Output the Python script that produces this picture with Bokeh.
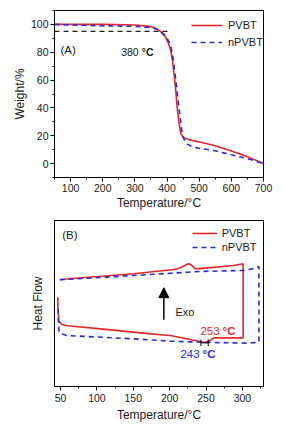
from bokeh.plotting import figure
from bokeh.layouts import column
from bokeh.models import (Range1d, SingleIntervalTicker, FixedTicker, Label, Arrow,
                          NormalHead, Segment, ColumnDataSource)
from bokeh.embed import file_html
from bokeh.resources import INLINE

# ---------------- data: (A) TGA ----------------
tga_pvbt_t = [50, 100, 200, 300, 340, 360, 380, 395, 405, 412, 418, 424, 428, 432, 437, 442,
              448, 458, 480, 505, 550, 600, 650, 700]
tga_pvbt_w = [100, 100, 100, 99.6, 98.8, 97.6, 95.0, 91, 86, 81, 72, 60, 50, 39, 30, 22,
              19.5, 18, 16.5, 15.3, 12.8, 9.0, 5.0, 0]
tga_npvbt_t = [50, 100, 200, 300, 350, 370, 380, 395, 405, 412, 418, 424, 430, 435, 440, 445,
               450, 456, 463, 480, 505, 550, 600, 650, 700]
tga_npvbt_w = [100, 99.6, 99, 98.6, 97.7, 96.5, 95, 92, 88, 84, 77, 66, 55, 44, 35, 25,
               19, 16, 14, 12, 10.8, 9.2, 6.3, 3.6, 0]
t5_line_t = [50, 413]
t5_line_w = [95, 95]

# ---------------- data: (B) DSC ----------------
dsc_pvbt_t = [49, 150.8, 205.8, 215, 222, 226, 230, 235, 240, 288, 301,
              301, 261, 256, 250, 245, 201, 174, 105, 60, 52, 47.6, 46.5, 46.2]
dsc_pvbt_h = [64.5, 67.9, 70.5, 71.5, 73.2, 74.0, 73.2, 71.0, 71.0, 72.9, 73.9,
              29.3, 29.3, 27.8, 26.6, 26.8, 30.7, 31.7, 34.7, 36.6, 37.3, 39.4, 47, 53.8]
dsc_npvbt_t = [49, 150.8, 242.5, 302, 315, 322.7, 322.7, 306.8, 242.5, 201, 150.8, 59.2,
               50, 48, 47, 46.8]
dsc_npvbt_h = [64.3, 66.9, 69.3, 69.9, 71.0, 72.3, 26.7, 26.1, 26.7, 27.3, 28.7, 30.7,
               31.8, 33, 40, 47.8]

RED = "#e8262a"
BLUE = "#2a2ad6"
FONT = "Liberation Sans"
TXT = "#1a1a1a"


def style(p):
    p.xgrid.visible = False
    p.ygrid.visible = False
    p.outline_line_color = "black"
    p.outline_line_width = 1
    p.outline_line_alpha = 1
    p.background_fill_color = "white"
    p.border_fill_color = "white"
    for ax in list(p.xaxis) + list(p.yaxis):
        ax.axis_line_color = "black"
        ax.major_tick_line_color = "black"
        ax.minor_tick_line_color = "black"
        ax.major_tick_in = 0
        ax.major_tick_out = 4
        ax.minor_tick_in = 0
        ax.minor_tick_out = 2
        ax.major_label_text_font = FONT
        ax.major_label_text_font_size = "10.5px"
        ax.major_label_text_color = TXT
        ax.major_label_standoff = 2
        ax.axis_label_text_font = FONT
        ax.axis_label_text_font_size = "12px"
        ax.axis_label_text_font_style = "normal"
        ax.axis_label_text_color = TXT
        ax.axis_label_standoff = 1


def legend_style(p, vx, vy, gw, spacing, standoff):
    leg = p.legend[0]
    leg.location = (vx, vy)
    leg.glyph_width = gw
    leg.glyph_height = 14
    leg.label_height = 14
    leg.spacing = spacing
    leg.padding = 0
    leg.margin = 0
    leg.label_standoff = standoff
    leg.border_line_color = None
    leg.background_fill_alpha = 0
    leg.label_text_font = FONT
    leg.label_text_font_size = "11px"
    leg.label_text_color = TXT


def two_part(p, x, y, num, color, off=2, size="10.5px"):
    p.add_layout(Label(x=x, y=y, text=num, text_align="right", text_baseline="middle",
                       x_offset=-off / 2, text_font=FONT, text_font_size=size,
                       text_color=color))
    p.add_layout(Label(x=x, y=y, text="°C", text_align="left", text_baseline="middle",
                       x_offset=off, text_font=FONT, text_font_size=size,
                       text_font_style="bold", text_color=color))


# ---------------- figure A ----------------
p1 = figure(frame_width=209, frame_height=167, output_backend="svg", toolbar_location=None,
            x_range=Range1d(50, 700), y_range=Range1d(-10, 110),
            min_border_left=54, min_border_right=13, min_border_top=10, min_border_bottom=38,
            x_axis_label="Temperature/°C", y_axis_label="Weight/%")
p1.xaxis.ticker = SingleIntervalTicker(interval=100, num_minor_ticks=2)
p1.yaxis.ticker = SingleIntervalTicker(interval=20, num_minor_ticks=2)
style(p1)
p1.line(t5_line_t, t5_line_w, color="#222222", line_width=1.3, line_dash="5 4")
p1.line(tga_pvbt_t, tga_pvbt_w, color=RED, line_width=1.6, legend_label="PVBT")
p1.line(tga_npvbt_t, tga_npvbt_w, color=BLUE, line_width=1.6, line_dash="5 4",
        legend_label="nPVBT")
legend_style(p1, 137, 128, 31, 3, 6)
p1.add_layout(Label(x=68.7, y=81.5, text="(A)", text_align="left", text_baseline="middle",
                    text_font=FONT, text_font_size="11.5px", text_color=TXT))
two_part(p1, 315, 80, "380", TXT)

# ---------------- figure B ----------------
p2 = figure(frame_width=209, frame_height=166, output_backend="svg", toolbar_location=None,
            x_range=Range1d(41.7, 329), y_range=Range1d(0, 100),
            min_border_left=54, min_border_right=13, min_border_top=5, min_border_bottom=40,
            x_axis_label="Temperature/°C", y_axis_label="Heat Flow")
p2.xaxis.ticker = SingleIntervalTicker(interval=50, num_minor_ticks=2)
style(p2)
p2.xaxis.major_label_standoff = 3
p2.xaxis.axis_label_standoff = 3
p2.yaxis.ticker = FixedTicker(ticks=[])
p2.yaxis.major_tick_out = 0
p2.yaxis.minor_tick_out = 0
p2.yaxis.major_label_standoff = 0
p2.yaxis.axis_label_standoff = 10
p2.line(dsc_pvbt_t, dsc_pvbt_h, color=RED, line_width=1.6, legend_label="PVBT")
p2.line(dsc_npvbt_t, dsc_npvbt_h, color=BLUE, line_width=1.6, line_dash="5 4",
        legend_label="nPVBT")
legend_style(p2, 137.7, 132.5, 25, -2, 5)
p2.add_layout(Label(x=52.3, y=91, text="(B)", text_align="left", text_baseline="middle",
                    text_font=FONT, text_font_size="11.5px", text_color=TXT))
p2.add_layout(Arrow(end=NormalHead(size=10, fill_color="black", line_color="black"),
                    x_start=192, y_start=40.2, x_end=192, y_end=59.5,
                    line_width=1.5, line_color="black"))
p2.add_layout(Label(x=208, y=44.8, text="Exo", text_align="left", text_baseline="middle",
                    text_font=FONT, text_font_size="11px", text_color=TXT))
two_part(p2, 270, 33.7, "253", RED, size="11.5px")
two_part(p2, 242.5, 19.7, "243", BLUE, size="11.5px")
mk = ColumnDataSource(dict(x0=[243, 253, 243], y0=[24.3, 24.3, 26.3],
                           x1=[243, 253, 253], y1=[28.3, 28.3, 26.3]))
p2.add_glyph(mk, Segment(x0="x0", y0="y0", x1="x1", y1="y1", line_color="black",
                         line_width=1))

lay = column(p1, p2)
open("out.html", "w").write(file_html(lay, INLINE))
